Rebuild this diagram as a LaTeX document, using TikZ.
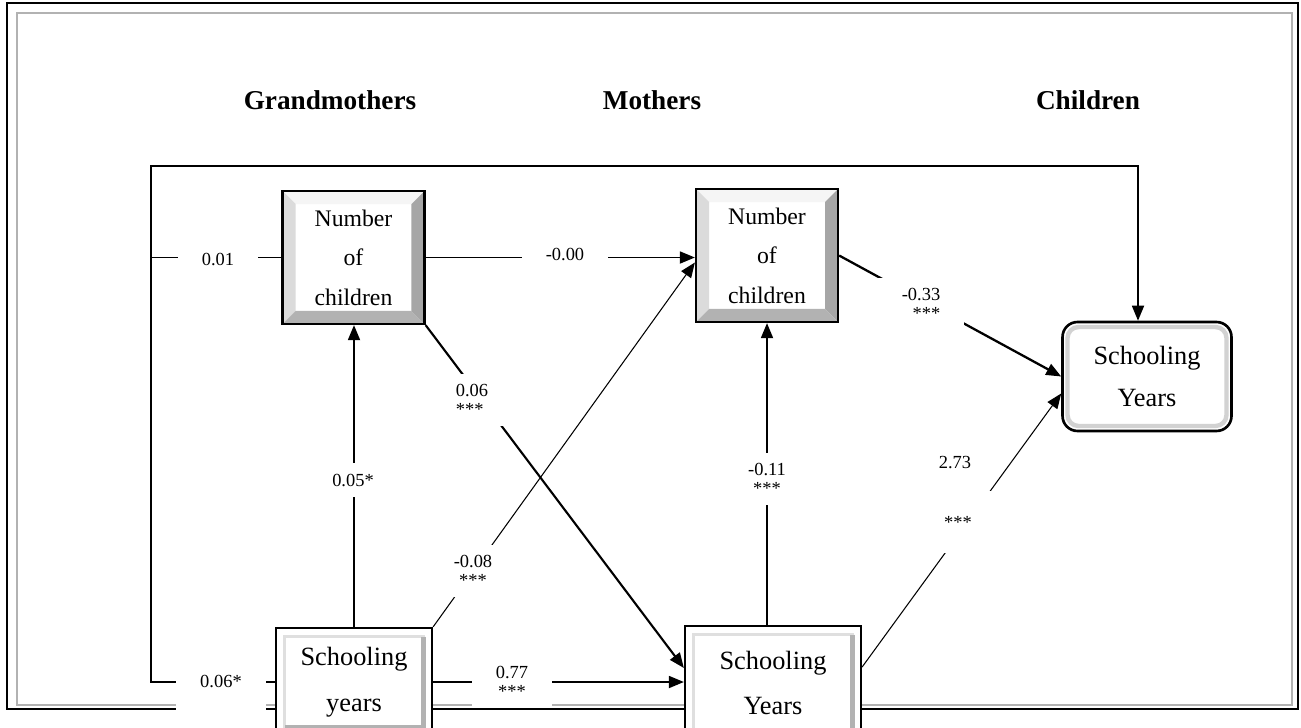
\documentclass[tikz,border=0pt]{standalone}
\usepackage{fontspec}
\setmainfont{Liberation Serif}
\usetikzlibrary{arrows.meta}

\tikzset{
  gen/.style={font=\fontsize{15.5}{18}\selectfont\bfseries},
  numbox/.style={draw, line width=1.3pt, fill=white, inner sep=0pt, align=center,
    minimum width=2.84cm, minimum height=2.66cm, font=\fontsize{13.5}{22.5}\selectfont,
    path picture={
      \fill[gray!8] (path picture bounding box.north west) -- (path picture bounding box.north east)
        -- ([shift={(-0.26cm,-0.26cm)}]path picture bounding box.north east)
        -- ([shift={(0.26cm,-0.26cm)}]path picture bounding box.north west) -- cycle;
      \fill[gray!28] (path picture bounding box.north west) -- (path picture bounding box.south west)
        -- ([shift={(0.26cm,0.26cm)}]path picture bounding box.south west)
        -- ([shift={(0.26cm,-0.26cm)}]path picture bounding box.north west) -- cycle;
      \fill[gray!70] (path picture bounding box.north east) -- (path picture bounding box.south east)
        -- ([shift={(-0.26cm,0.26cm)}]path picture bounding box.south east)
        -- ([shift={(-0.26cm,-0.26cm)}]path picture bounding box.north east) -- cycle;
      \fill[gray!60] (path picture bounding box.south west) -- (path picture bounding box.south east)
        -- ([shift={(-0.26cm,0.26cm)}]path picture bounding box.south east)
        -- ([shift={(0.26cm,0.26cm)}]path picture bounding box.south west) -- cycle;
    }},
  schbox/.style={draw, line width=1.3pt, fill=white, inner sep=0pt, align=center,
    font=\fontsize{15}{26}\selectfont,
    path picture={
      \draw[gray!25, line width=1.5pt] ([shift={(0.17cm,-0.17cm)}]path picture bounding box.north west)
        rectangle ([shift={(-0.17cm,0.17cm)}]path picture bounding box.south east);
      \draw[gray!60, line width=2.5pt] ([shift={(-0.17cm,-0.17cm)}]path picture bounding box.north east)
        -- ([shift={(-0.17cm,0.17cm)}]path picture bounding box.south east)
        -- ([shift={(0.17cm,0.17cm)}]path picture bounding box.south west);
    }},
  roundbox/.style={draw, line width=1.5pt, rounded corners=0.3cm, fill=white, inner sep=0pt, align=center,
    minimum width=3.38cm, minimum height=2.18cm, font=\fontsize{15}{23.5}\selectfont,
    path picture={
      \draw[gray!35, line width=2.5pt, rounded corners=0.22cm]
        ([shift={(0.1cm,-0.1cm)}]path picture bounding box.north west)
        rectangle ([shift={(-0.1cm,0.1cm)}]path picture bounding box.south east);
    }},
  link/.style={line width=1pt},
  conn/.style={line width=1pt, -{Triangle[length=0.3cm,width=0.24cm]}},
  coef/.style={fill=white, inner xsep=0.48cm, inner ysep=0.22cm, align=center,
    font=\fontsize{10.5}{10.5}\selectfont},
}

\begin{document}
\begin{tikzpicture}[x=0.02cm, y=-0.02cm]
\useasboundingbox (0,0) rectangle (1301,727);
\draw[gray!60, line width=1.6pt] (17,13) rectangle (1292,705);
\draw[line width=1.1pt] (7,3) rectangle (1298,709);

\node[gen] (tg) at (330,100) {Grandmothers};
\node[gen] (tm) at (652,100) {Mothers};
\node[gen] (tc) at (1088,100) {Children};

\node[numbox] (gn) at (353.5,257.5) {Number\\of\\children};
\node[numbox] (mn) at (767,255.5) {Number\\of\\children};
\node[schbox, minimum width=3.12cm, minimum height=2.16cm] (gs) at (354,682) {Schooling\\years};
\node[schbox, minimum width=3.52cm, minimum height=2.28cm] (ms) at (773,683) {Schooling\\Years};
\node[roundbox] (cs) at (1147,376.5) {Schooling\\Years};

\coordinate (lc) at (151,166);
\coordinate (rc) at (1138,166);

\draw[conn] (gs.west) -| (lc) -- (rc) -- (rc |- cs.north);
\draw[link] (gn.west) -- (gn.west -| lc);
\draw[conn] (gn.east) -- (gn.east -| mn.west);
\draw[conn] (gs.north) -- (gs.north |- gn.south);
\draw[conn, line width=1.2pt] (gn.south east) -- ([yshift=0.3cm]ms.west);
\draw[conn, line width=0.6pt] (gs.north east) -- ([yshift=-0.14cm]mn.west);
\draw[conn] (gs.east) -- (gs.east -| ms.west);
\draw[conn] (mn.south |- ms.north) -- (mn.south);
\draw[conn, line width=1.3pt] (mn.east) -- (cs.west);
\draw[conn, line width=0.6pt] ([yshift=0.32cm]ms.east) -- ([yshift=-0.34cm]cs.west);

\node[coef] (c01) at (218,259) {0.01};
\node[coef] (c000) at (565,254) {-0.00};
\node[coef] (c005) at (353,480) {0.05*};
\node[coef, align=left] (c006) at (472,400) {0.06\\***};
\node[coef] (c008) at (473,571) {-0.08\\***};
\node[coef] (c077) at (512,682) {0.77\\***};
\node[coef] (c011) at (767,479) {-0.11\\***};
\node[coef, align=right] (c033) at (921,304) {-0.33\\***};
\node[coef, inner ysep=0.5cm] (c273s) at (958,522) {***};
\node[coef, fill=none] (c273) at (955,463) {2.73};
\node[coef, minimum height=1.25cm] (c006s) at (221,681) {0.06*};
\end{tikzpicture}
\end{document}
